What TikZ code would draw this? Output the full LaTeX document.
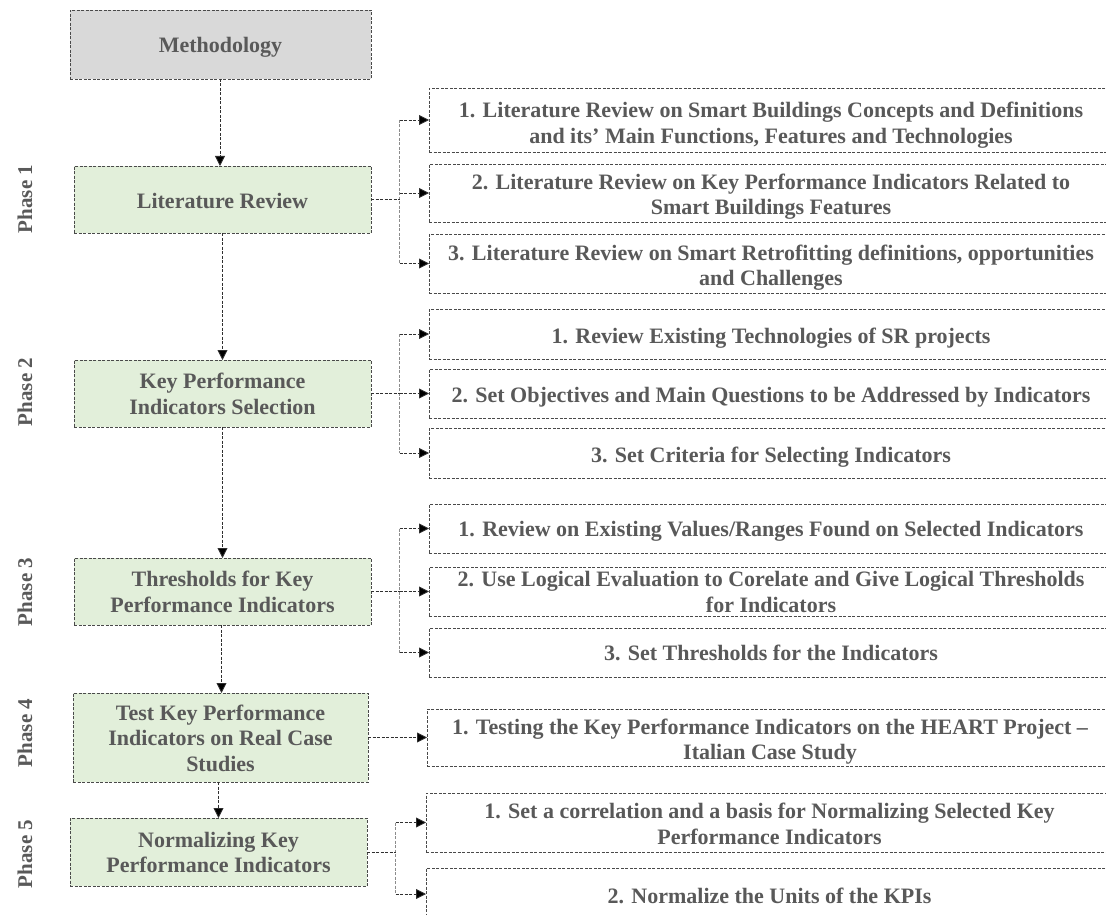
\documentclass[tikz,border=0pt]{standalone}
\usepackage{fontspec}
\setmainfont{Liberation Serif}
\usetikzlibrary{arrows.meta,calc}
\definecolor{txtgray}{HTML}{595959}
\definecolor{edgegray}{HTML}{4A4A4A}
\definecolor{headfill}{HTML}{D9D9D9}
\definecolor{phasefill}{HTML}{E2EFDA}
\definecolor{linkgray}{HTML}{303030}
\definecolor{branchgray}{HTML}{8C8C8C}
\tikzset{
  boxbase/.style={draw=edgegray, line width=0.8pt, dash pattern=on 3pt off 1.5pt,
    inner sep=0pt, outer sep=0pt},
  headbox/.style={boxbase, fill=headfill},
  phasebox/.style={boxbase, fill=phasefill},
  taskbox/.style={boxbase, fill=white},
  boxtext/.style={align=center, text=txtgray, inner sep=0pt,
    font=\fontsize{22}{25.5}\selectfont\bfseries},
  phaselabel/.style={rotate=90, text=txtgray, inner sep=0pt,
    font=\fontsize{21}{24}\selectfont\bfseries},
  stub/.style={draw=linkgray, line width=0.8pt, dash pattern=on 3pt off 1.5pt},
  branchline/.style={draw=branchgray, line width=0.8pt, dash pattern=on 3pt off 1.5pt},
  link/.style={stub, -{Triangle[length=10pt,width=10pt,fill=black]}},
}
% box by its corners x1, x2, y1, y2 (y grows downwards); #8 shifts the text down
\newcommand{\boxat}[8]{%
  \node[#1, minimum width=#4-#3, minimum height=#6-#5] (#2)
    at ({(#3+#4)/2},{(#5+#6)/2}) {};
  \node[boxtext] (#2-text) at ({(#3+#4)/2},{(#5+#6)/2+#7}) {#8};}
\begin{document}
\begin{tikzpicture}[x=1pt,y=-1pt]
\useasboundingbox (0,0) rectangle (1106,915);
\clip (0,0) rectangle (1106,915);

% main column
\boxat{headbox}{meth}{70}{371}{10}{79}{3}{Methodology}
\boxat{phasebox}{p1}{74}{371}{166}{233}{1.5}{Literature Review}
\boxat{phasebox}{p2}{74}{371}{360}{427}{0.5}{Key Performance\\Indicators Selection}
\boxat{phasebox}{p3}{74}{371}{558}{625}{0.5}{Thresholds for Key\\Performance Indicators}
\boxat{phasebox}{p4}{73}{368}{693}{782}{0.5}{Test Key Performance\\Indicators on Real Case\\Studies}
\boxat{phasebox}{p5}{70}{367}{818}{886}{0.5}{Normalizing Key\\Performance Indicators}

% phase labels
\node[phaselabel] (ph1) at (25,199) {Phase 1};
\node[phaselabel] (ph2) at (25,392) {Phase 2};
\node[phaselabel] (ph3) at (25,592) {Phase 3};
\node[phaselabel] (ph4) at (25,733) {Phase 4};
\node[phaselabel] (ph5) at (25,854) {Phase 5};

% tasks of each phase
\boxat{taskbox}{a1}{429}{1113}{88}{152}{5}{1. Literature Review on Smart Buildings Concepts and Definitions\\and its’ Main Functions, Features and Technologies}
\boxat{taskbox}{a2}{429}{1113}{164}{222}{3.5}{2. Literature Review on Key Performance Indicators Related to\\Smart Buildings Features}
\boxat{taskbox}{a3}{429}{1113}{234}{293}{4}{3. Literature Review on Smart Retrofitting definitions, opportunities\\and Challenges}

\boxat{taskbox}{b1}{429}{1113}{309}{359}{4}{1. Review Existing Technologies of SR projects}
\boxat{taskbox}{b2}{429}{1113}{369}{418}{4}{2. Set Objectives and Main Questions to be Addressed by Indicators}
\boxat{taskbox}{b3}{429}{1113}{428}{478}{4}{3. Set Criteria for Selecting Indicators}

\boxat{taskbox}{c1}{429}{1113}{504}{553}{3}{1. Review on Existing Values/Ranges Found on Selected Indicators}
\boxat{taskbox}{c2}{429}{1113}{567}{616}{0.5}{2. Use Logical Evaluation to Corelate and Give Logical Thresholds\\for Indicators}
\boxat{taskbox}{c3}{429}{1113}{628}{677}{0.5}{3. Set Thresholds for the Indicators}

\boxat{taskbox}{d1}{427}{1113}{709}{766}{4}{1. Testing the Key Performance Indicators on the HEART Project –\\Italian Case Study}

\boxat{taskbox}{e1}{426}{1113}{793}{852}{1.5}{1. Set a correlation and a basis for Normalizing Selected Key\\Performance Indicators}
\boxat{taskbox}{e2}{426}{1113}{868}{920}{2}{2. Normalize the Units of the KPIs}

% flow down the main column
\draw[link] ([xshift=-0.5pt]meth.south) -- ([xshift=-0.5pt]meth.south |- p1.north);
\draw[link] (p1.south) -- (p1.south |- p2.north);
\draw[link] (p2.south) -- (p2.south |- p3.north);
\draw[link] ([xshift=-1pt]p3.south) -- ([xshift=-1pt]p3.south |- p4.north);
\draw[link] ([xshift=-2pt]p4.south) -- ([xshift=-2pt]p4.south |- p5.north);

% branches to the tasks: dark stub, grey spine, dark arrows
\foreach \src/\first/\last in {p1/a1/a3, p2/b1/b3, p3/c1/c3, p5/e1/e2}{
  \coordinate (\src-fork) at ($(\src.east)+(28.5,0)$);
  \draw[branchline] (\src-fork |- \first.west) -- (\src-fork |- \last.west);
  \draw[stub] (\src.east) -- (\src-fork);
}
\foreach \src/\t in {p1/a1,p1/a2,p1/a3,p2/b1,p2/b2,p2/b3,p3/c1,p3/c2,p3/c3,p5/e1,p5/e2}
  \draw[link] (\src-fork |- \t.west) -- (\t.west);
\draw[link] (p4.east) -- (d1.west);
\end{tikzpicture}
\end{document}
